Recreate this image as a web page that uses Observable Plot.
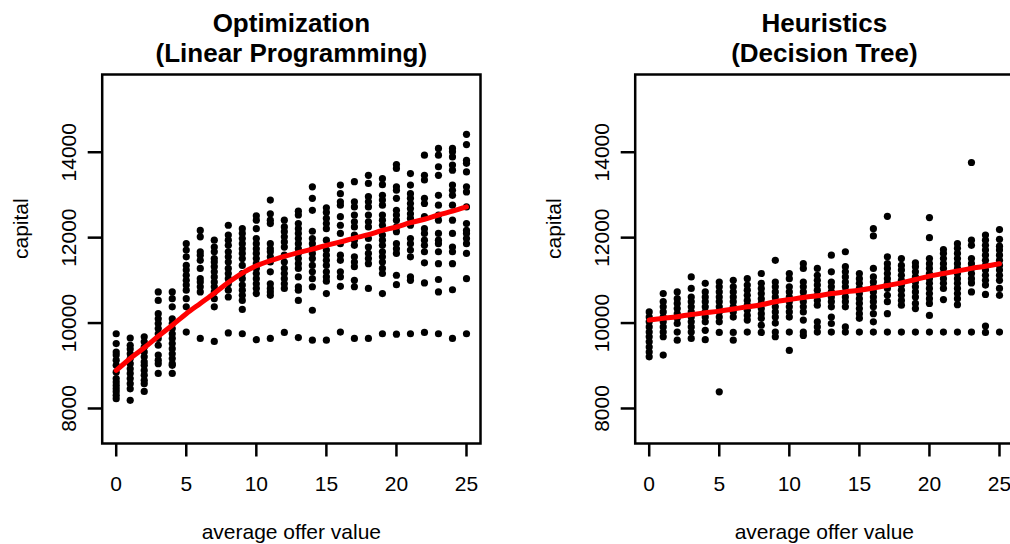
<!DOCTYPE html>
<html>
<head>
<meta charset="utf-8">
<script src="https://cdn.jsdelivr.net/npm/d3@7"></script>
<script src="https://cdn.jsdelivr.net/npm/@observablehq/plot@0.6"></script>
<style>
  html, body { margin: 0; padding: 0; background: white; }
  #wrap { position: relative; width: 1010px; height: 544px; overflow: hidden; background: white; }
  #wrap svg { position: absolute; top: 0; }
</style>
</head>
<body>
<div id="wrap"></div>
<script>
const offerValues = [0,1,2,3,4,5,6,7,8,9,10,11,12,13,14,15,16,17,18,19,20,21,22,23,24,25];
const xTicks = [0, 5, 10, 15, 20, 25];
const yTicks = [8000, 10000, 12000, 14000];

const titles = ["Optimization\n(Linear Programming)", "Heuristics\n(Decision Tree)"];
const xLabel = "average offer value";
const yLabel = "capital";

// capital values per average offer value (one list per x = 0..25)
const optCapital = [
  [9750, 9520, 9320, 9250, 9130, 9010, 8850, 8700, 8620, 8540, 8460, 8390, 8310, 8230],
  [9650, 9480, 9390, 9280, 9170, 9050, 8930, 8820, 8700, 8580, 8460, 8190],
  [9680, 9560, 9440, 9320, 9210, 9090, 9010, 8890, 8780, 8660, 8580, 8400],
  [10730, 10530, 10220, 10100, 9990, 9870, 9750, 9640, 9480, 9250, 9130, 9050, 8820],
  [10730, 10570, 10380, 10100, 9990, 9870, 9750, 9640, 9520, 9400, 9280, 9170, 9050, 9010, 8820],
  [11860, 11710, 11550, 11350, 11240, 11120, 11000, 10890, 10770, 10570, 10380, 9790],
  [12170, 12020, 11670, 11590, 11470, 11280, 11040, 10960, 10850, 10730, 9640],
  [11940, 11780, 11670, 11510, 11430, 11320, 11200, 11080, 10960, 10850, 10730, 10570, 10380, 9570],
  [12290, 12060, 11940, 11820, 11670, 11550, 11430, 11280, 11160, 11040, 10920, 10770, 10610, 9770],
  [12210, 12100, 11980, 11860, 11740, 11630, 11510, 11350, 11160, 11040, 10890, 10770, 10650, 10530, 10320, 9750],
  [12510, 12410, 12210, 11980, 11860, 11740, 11630, 11510, 11390, 11280, 11160, 11040, 10920, 10810, 10690, 9610],
  [12880, 12560, 12410, 12330, 11860, 11740, 11670, 11550, 11430, 11200, 10920, 10810, 10730, 10650, 9640],
  [12410, 12250, 12140, 12020, 11900, 11780, 11590, 11430, 11280, 11160, 11040, 10920, 10810, 9780],
  [12620, 12530, 12330, 12210, 12100, 11980, 11860, 11740, 11630, 11510, 11390, 11280, 11080, 10850, 10770, 10530, 9660],
  [13190, 12920, 12640, 12150, 11980, 11860, 11740, 11630, 11510, 11350, 11200, 11040, 10850, 10300, 9600],
  [12700, 12590, 12450, 12330, 12210, 11940, 11710, 11590, 11470, 11350, 11200, 11080, 10980, 10690, 9600],
  [13230, 13030, 12840, 12760, 12490, 12290, 12100, 11860, 11590, 11470, 11200, 11080, 10860, 9790],
  [13310, 12840, 12720, 12530, 12370, 12250, 12060, 11940, 11820, 11550, 11430, 11320, 11000, 10850, 9640],
  [13460, 13270, 12960, 12840, 12720, 12530, 12370, 12250, 11980, 11780, 11630, 11510, 11390, 10810, 9640],
  [13380, 13240, 12990, 12880, 12760, 12530, 12410, 12290, 12060, 11940, 11820, 11670, 11550, 11430, 11280, 11160, 10690, 9750],
  [13710, 13620, 13190, 13110, 12920, 12640, 12530, 12410, 12250, 12140, 11860, 11740, 11630, 11120, 10900, 9740],
  [13500, 13230, 13030, 12920, 12800, 12680, 12560, 12450, 12290, 11980, 11860, 11710, 11550, 11080, 11000, 9750],
  [13930, 13460, 13350, 12920, 12800, 12490, 12210, 12100, 11940, 11820, 11670, 11410, 10940, 9780],
  [14090, 13930, 13660, 13460, 12990, 12760, 12530, 12410, 12100, 11940, 11860, 11670, 11390, 11020, 10730, 9750],
  [14090, 14010, 13890, 13700, 13580, 13230, 13110, 12990, 12760, 12410, 12100, 11780, 11670, 11390, 10780, 9640],
  [14420, 14180, 13810, 13740, 13540, 13190, 13070, 12720, 12330, 12170, 12100, 11980, 11860, 11630, 11040, 9750]
];

const heurCapital = [
  [10260, 10140, 10030, 9910, 9790, 9680, 9560, 9440, 9320, 9210],
  [10690, 10500, 10380, 10260, 10140, 10030, 9910, 9790, 9680, 9250],
  [10730, 10570, 10460, 10340, 10220, 10110, 9990, 9790, 9600],
  [11080, 10810, 10610, 10500, 10380, 10260, 10140, 10030, 9910, 9790, 9640],
  [10930, 10730, 10610, 10500, 10380, 10260, 10140, 10030, 9830, 9610],
  [10960, 10850, 10730, 10610, 10500, 10380, 10260, 10140, 10030, 9780, 8390],
  [11000, 10850, 10730, 10610, 10500, 10380, 10260, 10140, 9780, 9600],
  [11040, 10890, 10770, 10650, 10530, 10420, 10300, 10180, 10070, 9790],
  [11160, 10930, 10810, 10690, 10570, 10460, 10340, 10220, 10110, 9950, 9780],
  [11470, 10960, 10850, 10730, 10610, 10500, 10380, 10260, 10140, 10000, 9790, 9680],
  [11160, 11040, 10850, 10730, 10610, 10500, 10380, 10260, 10140, 9790, 9360],
  [11390, 11280, 10960, 10850, 10730, 10610, 10500, 10380, 10260, 10070, 9790, 9710],
  [11280, 11120, 11000, 10890, 10770, 10650, 10530, 10420, 10030, 9910, 9790],
  [11590, 11200, 10960, 10850, 10730, 10610, 10500, 10380, 10140, 9990, 9790],
  [11670, 11320, 11200, 11080, 10960, 10850, 10730, 10610, 10500, 10380, 9910, 9790],
  [11160, 11040, 10930, 10810, 10690, 10570, 10460, 10340, 10220, 10110, 9790],
  [12210, 12040, 11280, 11080, 10960, 10850, 10730, 10610, 10500, 10380, 10220, 10030, 9790],
  [12500, 11550, 11390, 11280, 11160, 11040, 10930, 10810, 10650, 10500, 10220, 9790],
  [11510, 11350, 11240, 11120, 11000, 10890, 10770, 10650, 10530, 10420, 9790],
  [11410, 11320, 11200, 11080, 10960, 10850, 10730, 10610, 10460, 10340, 9790],
  [12470, 12000, 11510, 11390, 11280, 11160, 11040, 10930, 10810, 10690, 10570, 10460, 10180, 9790],
  [11720, 11630, 11510, 11390, 11280, 11160, 11040, 10930, 10810, 10550, 9790],
  [11860, 11750, 11630, 11510, 11390, 11280, 11160, 11040, 10930, 10810, 10690, 10570, 10430, 9790],
  [13760, 11940, 11820, 11510, 11390, 11280, 11160, 11040, 10940, 10730, 9790],
  [12060, 11940, 11820, 11710, 11590, 11470, 11350, 11240, 11120, 11000, 10890, 10670, 9930, 9780],
  [12190, 11960, 11800, 11710, 11590, 11470, 11350, 11240, 11120, 11000, 10810, 10650, 9790]
];

// smoothed (loess) fit
const optFit = [8890, 9170, 9420, 9690, 9950, 10220, 10460, 10700, 10950, 11170, 11340, 11460, 11560, 11650, 11730, 11820, 11900, 11990, 12070, 12170, 12250, 12350, 12430, 12530, 12620, 12720];
const heurFit = [10070, 10110, 10150, 10200, 10240, 10280, 10330, 10380, 10430, 10500, 10550, 10600, 10640, 10690, 10730, 10770, 10820, 10880, 10940, 11020, 11100, 11160, 11220, 11280, 11330, 11390];

const FONT = "'Liberation Sans', Arial, Helvetica, sans-serif";

function panel(title, capital, fit) {
  const pts = capital.flatMap((vals, i) => vals.map(v => ({x: offerValues[i], y: v})));
  const fitData = fit.map((v, i) => ({x: offerValues[i], y: v}));
  return Plot.plot({
    width: 533,
    height: 544,
    marginLeft: 101.7,
    marginRight: 53,
    marginTop: 74,
    marginBottom: 101,
    x: {domain: [-1, 26]},
    y: {domain: [7180, 15820]},
    style: {fontFamily: FONT, fontSize: "21px", background: "white", color: "black", overflow: "visible"},
    marks: [
      Plot.axisX(xTicks, {tickSize: 13.5, tickPadding: 19, strokeWidth: 2.5, label: null, fontSize: 21, tickFormat: d => String(d)}),
      Plot.axisY(yTicks, {tickSize: 14, tickPadding: 12, tickRotate: -90, strokeWidth: 2.5, label: null, fontSize: 21, tickFormat: d => String(d)}),
      Plot.dot(pts, {x: "x", y: "y", r: 3.6, fill: "black", stroke: null}),
      Plot.line(fitData, {x: "x", y: "y", stroke: "#ff0000", strokeWidth: 5, curve: "catmull-rom"}),
      Plot.frame({stroke: "black", strokeWidth: 2.5}),
      Plot.text([title], {text: d => d, frameAnchor: "top", dy: -12.5, lineAnchor: "bottom", fontWeight: "bold", fontSize: 26, lineHeight: 1.154, fill: "black"}),
      Plot.text([yLabel], {text: d => d, frameAnchor: "left", dx: -81, rotate: -90, fontSize: 21, fill: "black"}),
      Plot.text([xLabel], {text: d => d, frameAnchor: "bottom", dy: 95, lineAnchor: "bottom", fontSize: 21, fill: "black"})
    ]
  });
}

const wrap = document.getElementById("wrap");
const a = panel(titles[0], optCapital, optFit);
a.style.left = "0px";
const b = panel(titles[1], heurCapital, heurFit);
b.style.left = "533.3px";
wrap.appendChild(a);
wrap.appendChild(b);
</script>
</body>
</html>
